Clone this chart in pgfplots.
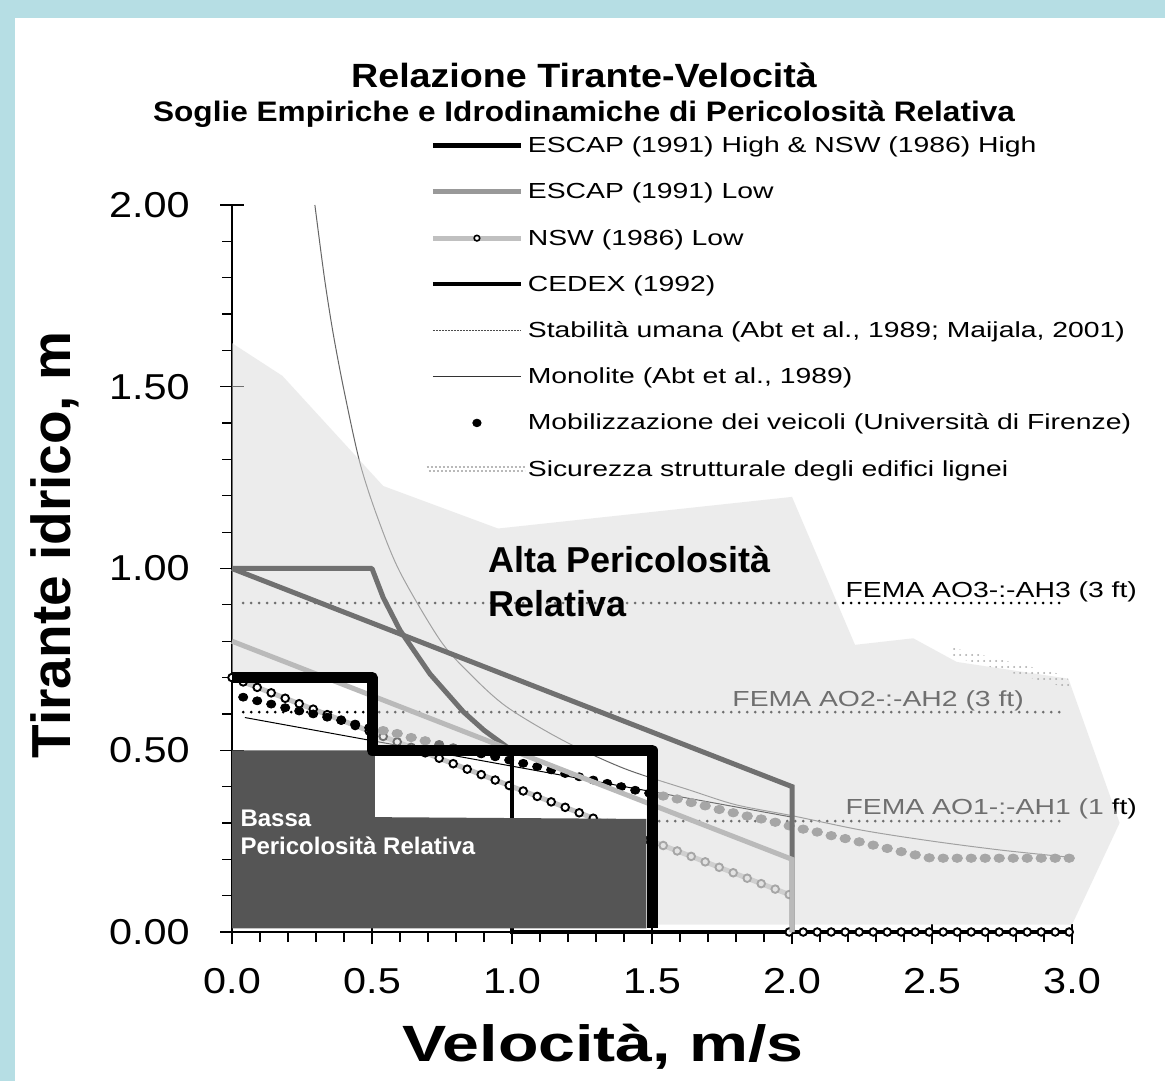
\documentclass[border=0pt]{standalone}
\usepackage{fontspec}
\setmainfont{Liberation Sans}[FakeStretch=1.3]
\newfontfamily\boxfont{Liberation Sans}
\newfontfamily\tickfont{Liberation Sans}[FakeStretch=1.15]
\newfontfamily\titlefont{Liberation Sans}[FakeStretch=1.12]
\usepackage{pgfplots}
\pgfplotsset{compat=1.18}
\usetikzlibrary{patterns}
\definecolor{bgblue}{RGB}{182,222,228}
\definecolor{escap}{RGB}{112,112,112}
\definecolor{escapleg}{RGB}{153,153,153}
\definecolor{nsw}{RGB}{186,186,186}
\definecolor{nswleg}{RGB}{192,192,192}
\definecolor{darkblock}{RGB}{85,85,85}
\definecolor{ovl}{RGB}{219,219,219}
\definecolor{dimmed}{RGB}{112,112,112}
\definecolor{ovbg}{RGB}{237,237,237}
\begin{document}
\begin{tikzpicture}
\useasboundingbox (0,0) rectangle (582.5pt,540.5pt);
\fill[bgblue] (0,0) rectangle (582.5pt,540.5pt);
\fill[white] (7.5pt,0) rectangle (582.5pt,531.5pt);
\begin{axis}[
  at={(116pt,74.5pt)}, anchor=south west,
  scale only axis, width=420pt, height=363.5pt,
  xmin=0, xmax=3, ymin=0, ymax=2,
  clip=false, clip mode=individual,
  axis lines*=left,
  axis line style={black, line width=0.7pt},
  xtick={0,0.5,1,1.5,2,2.5,3},
  xticklabels={0.0,0.5,1.0,1.5,2.0,2.5,3.0},
  ytick={0,0.5,1,1.5,2},
  yticklabels={0.00,0.50,1.00,1.50,2.00},
  minor x tick num=4, minor y tick num=4,
  tick align=outside, major tick length=6pt, minor tick length=5pt,
  tick style={black, line width=0.6pt},
  extra x ticks={0,0.5,1,1.5,2,2.5,3}, extra x tick labels={},
  extra x tick style={tick align=inside, major tick length=4pt},
  extra y ticks={0,0.5,1,1.5,2}, extra y tick labels={},
  extra y tick style={tick align=inside, major tick length=6pt},
  ticklabel style={font=\tickfont\fontsize{18}{20}\selectfont, inner sep=0pt},
  xticklabel shift=12pt,
  yticklabel shift=15pt,
  legend style={at={(0.231,1.098)}, anchor=north west, draw=none, fill=none,
    inner sep=0pt, outer sep=0pt, row sep=11.1pt,
    font=\fontsize{10.9}{12}\selectfont,
    nodes={inner sep=0pt, text height=9.5pt, text depth=2.5pt},
    /tikz/every odd column/.append style={column sep=1pt}},
  legend cell align=left,
]
% ---- FEMA lines (under the high-hazard overlay)
\addplot[forget plot, black, line width=1.5pt, line cap=round, dash pattern=on 0pt off 4pt] coordinates {(0.04,0.905) (2.96,0.905)};
\addplot[forget plot, black, line width=1.5pt, line cap=round, dash pattern=on 0pt off 4pt] coordinates {(0.04,0.605) (2.96,0.605)};
\addplot[forget plot, black, line width=1.5pt, line cap=round, dash pattern=on 0pt off 4pt] coordinates {(0.04,0.305) (2.96,0.305)};
\node[anchor=base west, inner sep=0pt, font=\fontsize{10.9}{12}\selectfont] at (axis cs:2.19,0.919) {FEMA AO3-:-AH3 (3 ft)};
\node[anchor=base west, inner sep=0pt, font=\fontsize{10.9}{12}\selectfont] at (axis cs:1.786,0.62) {FEMA AO2-:-AH2 (3 ft)};
\node[anchor=base west, inner sep=0pt, font=\fontsize{10.9}{12}\selectfont] at (axis cs:2.19,0.322) {FEMA AO1-:-AH1 (1 ft)};
% ---- Stabilita umana
\addplot[forget plot, black!60, line width=0.5pt, smooth] coordinates {
(0.296,2.0) (0.33,1.80) (0.361,1.648) (0.40,1.49) (0.457,1.29) (0.52,1.14) (0.6,0.99)
(0.743,0.803) (0.85,0.71) (0.98,0.62) (1.18,0.528) (1.4,0.45) (1.636,0.39) (1.8,0.35)
(2.0,0.32) (2.25,0.28) (2.5,0.25) (2.75,0.225) (3.0,0.205)};
% ---- Monolite
\addplot[forget plot, black, line width=0.5pt] coordinates {(0.046,0.59) (2.0,0.316)};
% ---- NSW low circles (slope): line
\addplot[forget plot, color={rgb,255:red,196;green,196;blue,196}, line width=2.5pt] coordinates {(0,0.70) (1.99,0.103)};
% circles in the white zone
\addplot[forget plot, only marks, mark=*, mark size=1.9pt, mark options={fill=white, draw=black, line width=0.95pt}] coordinates {
(0,0.70) (0.04,0.688) (0.09,0.673) (0.14,0.658) (0.19,0.643) (0.24,0.628) (0.29,0.613)
(0.34,0.598) (0.39,0.583) (0.44,0.568) (0.49,0.553) (0.54,0.538) (0.59,0.523) (0.64,0.508)
(0.69,0.493) (0.74,0.478) (0.79,0.463) (0.84,0.448) (0.89,0.433) (0.94,0.418) (0.99,0.403)
(1.04,0.388) (1.09,0.373) (1.14,0.358) (1.19,0.343) (1.24,0.328) (1.29,0.313) (1.34,0.298)
(1.39,0.283) (1.44,0.268) (1.49,0.253)};
% circles in the grey zone
\addplot[forget plot, only marks, mark=*, mark size=1.9pt, mark options={fill=ovbg, draw=dimmed, line width=0.95pt}] coordinates {
(1.54,0.238) (1.59,0.223) (1.64,0.208) (1.69,0.193)
(1.74,0.178) (1.79,0.163) (1.84,0.148) (1.89,0.133) (1.94,0.118) (1.99,0.103)};
% ---- Mobilizzazione dei veicoli: white zone (black) and grey zone (dimmed)
\addplot[forget plot, only marks, black, mark=*, mark size=2pt, mark options={xscale=1.15}] coordinates {
(0.04,0.646) (0.09,0.636) (0.14,0.627) (0.19,0.617) (0.24,0.608) (0.29,0.600) (0.34,0.591)
(0.39,0.582) (0.44,0.572) (0.49,0.562)
(0.74,0.516) (0.79,0.507) (0.84,0.498) (0.89,0.490) (0.94,0.482) (0.99,0.473) (1.04,0.464)
(1.09,0.455) (1.14,0.446) (1.19,0.436) (1.24,0.427) (1.29,0.418) (1.34,0.409) (1.39,0.400)
(1.44,0.390) (1.49,0.382)};
\addplot[forget plot, only marks, dimmed, mark=*, mark size=2.1pt, mark options={xscale=1.25}] coordinates {
(0.54,0.554) (0.59,0.546) (0.64,0.535) (0.69,0.526)
(1.54,0.374) (1.59,0.366) (1.64,0.356) (1.69,0.347) (1.74,0.337)
(1.79,0.328) (1.84,0.319) (1.89,0.311) (1.94,0.302) (1.99,0.292) (2.04,0.283) (2.09,0.275)
(2.14,0.265) (2.19,0.257) (2.24,0.248) (2.29,0.239) (2.34,0.230) (2.39,0.221) (2.44,0.212)
(2.49,0.204) (2.54,0.203) (2.59,0.203) (2.64,0.203) (2.69,0.203) (2.74,0.203) (2.79,0.203)
(2.84,0.203) (2.89,0.203) (2.94,0.203) (2.99,0.203)};
% ---- overlay: high relative hazard zone
\addplot[forget plot, draw=none, fill=ovl, fill opacity=0.51] coordinates {
(0,1.62) (0.18,1.53) (0.54,1.227) (0.95,1.11) (2.0,1.197) (2.225,0.79) (2.433,0.808)
(2.588,0.743) (2.987,0.697) (3.17,0.30) (3.0,0.02) (1.5,0.02) (1.5,0.5) (0.5,0.5)
(0.5,0.7) (0,0.7)} -- cycle;
% ---- CEDEX
\addplot[forget plot, black, line width=2pt] coordinates {(1.0,0.5) (1.0,0.0) (3.0,0.0)};
% ---- NSW low circles at zero
\addplot[forget plot, only marks, mark=*, mark size=1.9pt, mark options={fill=white, draw=black, line width=0.95pt}] coordinates {
(1.99,0) (2.04,0) (2.09,0) (2.14,0) (2.19,0) (2.24,0) (2.29,0) (2.34,0) (2.39,0) (2.44,0) (2.49,0)
(2.54,0) (2.59,0) (2.64,0) (2.69,0) (2.74,0) (2.79,0) (2.84,0) (2.89,0) (2.94,0) (2.99,0)};
% ---- ESCAP low
\addplot[forget plot, escap, line width=2.5pt] coordinates {(0,1.0) (2.0,0.4) (2.0,0.0)};
\addplot[forget plot, escap, line width=2.5pt, line join=round] coordinates {
(0,1.0) (0.5,1.0) (0.54,0.92) (0.6,0.83) (0.707,0.71) (0.826,0.606) (0.9,0.555) (0.98,0.51) (1.0,0.5)};
% ---- NSW low line
\addplot[forget plot, nsw, line width=2.5pt] coordinates {(0,0.8) (2.0,0.2) (2.0,0.0)};
% ---- low hazard block
\addplot[forget plot, draw=none, fill=darkblock] coordinates {
(0,0.01) (0,0.50) (0.51,0.50) (0.51,0.316) (1.48,0.311) (1.48,0.01)} -- cycle;
% ---- ESCAP high & NSW high
\addplot[forget plot, black, line width=5.5pt, line join=round] coordinates {
(0,0.70) (0.5,0.70) (0.5,0.50) (1.5,0.50) (1.5,0.01)};
% ---- Sicurezza strutturale
\addplot[forget plot, draw=none, pattern=dots, pattern color=gray!70] coordinates {
(2.575,0.782) (2.98,0.705) (3.0,0.668) (2.575,0.757)} -- cycle;
% ---- texts
\node[anchor=base west, inner sep=0pt, font=\boxfont\bfseries\fontsize{18}{20}\selectfont] at (axis cs:0.914,0.988) {Alta Pericolosità};
\node[anchor=base west, inner sep=0pt, font=\boxfont\bfseries\fontsize{18}{20}\selectfont] at (axis cs:0.914,0.867) {Relativa};
\node[anchor=base west, inner sep=0pt, text=white, font=\boxfont\bfseries\fontsize{12}{14}\selectfont] at (axis cs:0.029,0.289) {Bassa};
\node[anchor=base west, inner sep=0pt, text=white, font=\boxfont\bfseries\fontsize{12}{14}\selectfont] at (axis cs:0.029,0.212) {Pericolosità Relativa};
% ---- legend
\addlegendimage{legend image code/.code={\draw[black,line width=2.5pt] (0pt,0pt) -- (44pt,0pt);}}
\addlegendentry{ESCAP (1991) High \& NSW (1986) High}
\addlegendimage{legend image code/.code={\draw[escapleg,line width=2.5pt] (0pt,0pt) -- (44pt,0pt);}}
\addlegendentry{ESCAP (1991) Low}
\addlegendimage{legend image code/.code={\draw[nswleg,line width=2.5pt] (0pt,0pt) -- (44pt,0pt);
  \draw[black,fill=white,line width=0.8pt] (22pt,0pt) circle (1.4pt);}}
\addlegendentry{NSW (1986) Low}
\addlegendimage{legend image code/.code={\draw[black,line width=2pt] (0pt,0pt) -- (44pt,0pt);}}
\addlegendentry{CEDEX (1992)}
\addlegendimage{legend image code/.code={\draw[black!70,line width=0.5pt, dash pattern=on 1pt off 0.5pt] (0pt,0pt) -- (44pt,0pt);}}
\addlegendentry{Stabilità umana (Abt et al., 1989; Maijala, 2001)}
\addlegendimage{legend image code/.code={\draw[black!80,line width=0.6pt] (0pt,0pt) -- (44pt,0pt);}}
\addlegendentry{Monolite (Abt et al., 1989)}
\addlegendimage{legend image code/.code={\fill[black] (22pt,0pt) ellipse (2.1pt and 1.9pt);}}
\addlegendentry{Mobilizzazione dei veicoli (Università di Firenze)}
\addlegendimage{legend image code/.code={
  \draw[gray!55,line width=0.9pt, dash pattern=on 0.9pt off 1.1pt] (-3pt,1.1pt) -- (46pt,1.1pt);
  \draw[gray!55,line width=0.9pt, dash pattern=on 0.9pt off 1.1pt, dash phase=1pt] (-3pt,-1.1pt) -- (46pt,-1.1pt);}}
\addlegendentry{Sicurezza strutturale degli edifici lignei}
\end{axis}
\node[font=\titlefont\bfseries\fontsize{16.8}{19}\selectfont] at (292pt,503pt) {Relazione Tirante-Velocità};
\node[font=\titlefont\bfseries\fontsize{14.1}{16}\selectfont] at (292pt,483.5pt) {Soglie Empiriche e Idrodinamiche di Pericolosità Relativa};
\node[font=\bfseries\fontsize{25.5}{30}\selectfont] at (301.5pt,17pt) {Velocità, m/s};
\node[rotate=90, font=\boxfont\bfseries\fontsize{27.5}{30}\selectfont] at (27.5pt,268pt) {Tirante idrico, m};
\end{tikzpicture}
\end{document}
